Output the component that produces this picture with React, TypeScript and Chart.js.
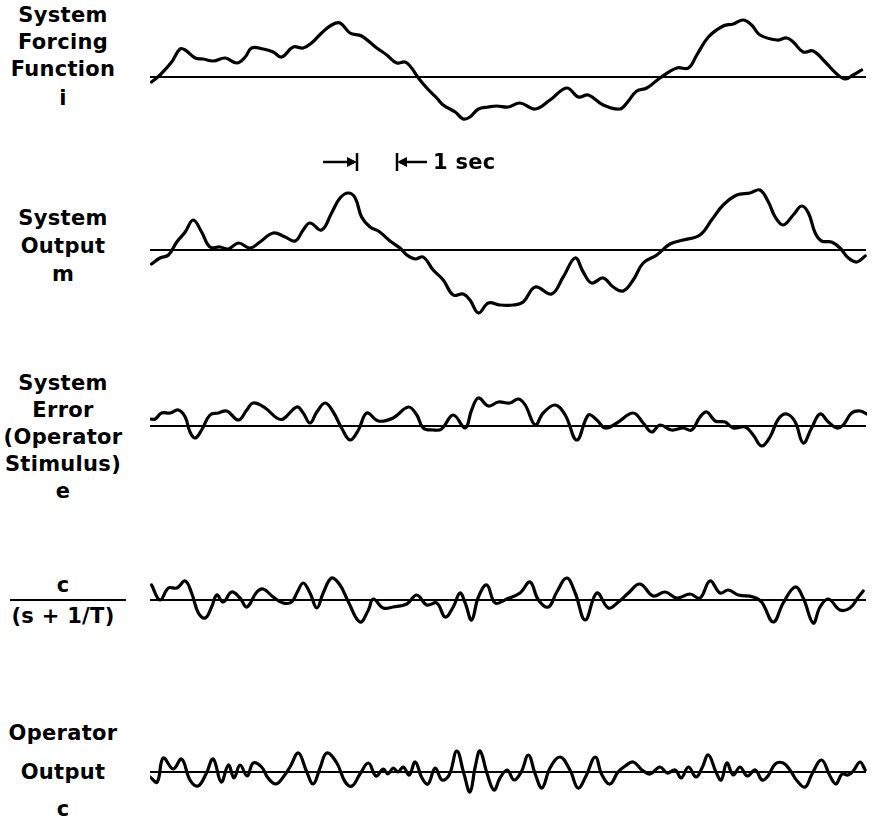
import React, { useEffect, useRef } from "react";
import { Chart, registerables } from "chart.js";

Chart.register(...registerables);

// Time axis in seconds (1 s marker shown on the figure)
const DURATION = 17.925;

// System forcing function i
const forcingT = [0.04, 0.25, 0.54, 0.75, 0.88, 1.13, 1.33, 1.58, 1.88, 2.17, 2.38, 2.54, 2.83, 3.08, 3.29, 3.58, 3.83, 4.04, 4.29, 4.54, 4.75, 5.0, 5.29, 5.67, 5.92, 6.17, 6.38, 6.54, 6.71, 6.92, 7.17, 7.33, 7.63, 7.83, 8.0, 8.21, 8.46, 8.67, 8.96, 9.25, 9.63, 10.0, 10.42, 10.71, 10.96, 11.33, 11.75, 11.92, 12.17, 12.42, 12.75, 13.17, 13.46, 13.67, 13.96, 14.33, 14.58, 14.83, 15.04, 15.25, 15.67, 15.92, 16.08, 16.33, 16.58, 16.88, 17.17, 17.38, 17.58, 17.79];
const forcingV = [-5, 2, 15, 28, 27, 19, 18, 16, 19, 14, 20, 29, 28, 25, 20, 30, 29, 34, 44, 52, 54, 44, 41, 29, 22, 14, 15, 9, -1, -11, -21, -28, -35, -42, -40, -32, -30, -29, -30, -26, -32, -23, -11, -20, -18, -28, -32, -26, -14, -11, -1, 9, 9, 22, 40, 51, 53, 57, 52, 42, 37, 39, 35, 25, 26, 15, 3, -2, 2, 7];

// System output m
const outputT = [0.04, 0.25, 0.46, 0.67, 0.88, 1.08, 1.29, 1.5, 1.75, 1.96, 2.21, 2.5, 2.75, 3.08, 3.38, 3.63, 3.83, 4.0, 4.29, 4.54, 4.75, 4.96, 5.13, 5.29, 5.5, 5.71, 6.0, 6.25, 6.42, 6.63, 6.83, 7.08, 7.33, 7.58, 7.83, 8.0, 8.21, 8.46, 8.75, 9.08, 9.33, 9.63, 10.04, 10.33, 10.63, 10.83, 11.04, 11.33, 11.58, 11.83, 12.08, 12.33, 12.67, 13.0, 13.33, 13.75, 14.04, 14.33, 14.67, 15.0, 15.25, 15.46, 15.63, 15.83, 16.08, 16.29, 16.46, 16.63, 16.79, 17.04, 17.25, 17.46, 17.67, 17.88];
const outputV = [-14, -8, -5, 8, 18, 30, 18, 3, 3, 1, 7, 2, 8, 17, 13, 9, 20, 27, 20, 37, 52, 57, 52, 33, 23, 19, 9, 2, -5, -9, -7, -20, -30, -45, -44, -50, -63, -53, -55, -55, -52, -37, -44, -27, -8, -22, -33, -28, -37, -41, -30, -13, -5, 6, 10, 15, 30, 45, 55, 57, 60, 48, 33, 25, 35, 44, 37, 17, 9, 8, 2, -8, -12, -6];

// System error e (operator stimulus)
const errorT = [0, 0.13, 0.29, 0.5, 0.71, 0.88, 1.0, 1.13, 1.29, 1.5, 1.71, 1.92, 2.21, 2.42, 2.58, 2.88, 3.17, 3.33, 3.67, 3.83, 4.0, 4.17, 4.38, 4.58, 4.79, 5.0, 5.21, 5.42, 5.71, 6.08, 6.46, 6.67, 6.83, 7.08, 7.29, 7.58, 7.88, 8.04, 8.21, 8.46, 8.71, 9.0, 9.21, 9.38, 9.63, 9.83, 10.13, 10.38, 10.67, 10.96, 11.17, 11.38, 11.67, 12.08, 12.33, 12.54, 12.75, 13.04, 13.33, 13.54, 13.75, 13.92, 14.13, 14.38, 14.58, 14.88, 15.08, 15.29, 15.5, 15.71, 15.92, 16.13, 16.33, 16.54, 16.75, 16.96, 17.17, 17.33, 17.54, 17.75, 17.92];
const errorV = [7, 7, 13, 13, 16, 9, -6, -12, -4, 11, 13, 15, 6, 16, 23, 18, 8, 7, 19, 13, 3, 14, 23, 14, -2, -14, -4, 13, 5, 8, 19, 11, -2, -4, -3, 11, -2, 16, 28, 20, 24, 23, 27, 21, 1, 13, 21, 11, -14, 11, 6, -2, 3, 13, 3, -6, 1, -4, -2, -4, 9, 14, 5, 4, -2, -1, -9, -20, -11, 7, 12, 4, -17, -2, 12, 4, -2, 1, 13, 15, 12];

// c / (s + 1/T)
const filteredT = [0.04, 0.25, 0.46, 0.67, 0.88, 1.04, 1.21, 1.38, 1.54, 1.67, 1.83, 2.04, 2.25, 2.42, 2.67, 2.83, 3.08, 3.33, 3.54, 3.67, 3.83, 4.0, 4.17, 4.33, 4.54, 4.75, 4.96, 5.25, 5.46, 5.58, 5.83, 6.08, 6.42, 6.67, 6.92, 7.17, 7.38, 7.58, 7.75, 7.88, 8.04, 8.21, 8.42, 8.63, 8.92, 9.25, 9.5, 9.71, 9.96, 10.17, 10.42, 10.63, 10.88, 11.17, 11.46, 11.71, 11.96, 12.25, 12.58, 12.88, 13.17, 13.5, 13.75, 14.0, 14.25, 14.46, 14.71, 15.08, 15.29, 15.58, 15.83, 16.13, 16.33, 16.58, 16.75, 16.96, 17.25, 17.5, 17.71, 17.83];
const filteredV = [15, 0, 12, 12, 19, 7, -13, -18, -7, 5, -2, 8, 2, -7, 8, 11, 3, -3, -2, 7, 17, 7, -8, 7, 22, 15, -2, -22, -10, 1, -8, -7, -4, 5, -5, -3, -17, -7, 7, -3, -20, 3, 15, -3, 1, 7, 18, 0, -7, 8, 22, 7, -20, 7, -8, -2, 7, 16, 4, 8, 2, 6, 2, 19, 7, 10, 5, 3, -2, -22, -3, 13, 2, -23, -7, 1, -10, -8, 3, 9];

// Operator output c
const operatorT = [0, 0.18, 0.33, 0.58, 0.79, 1.0, 1.2, 1.4, 1.58, 1.78, 1.96, 2.1, 2.25, 2.43, 2.58, 2.79, 2.95, 3.15, 3.35, 3.5, 3.71, 3.9, 4.08, 4.25, 4.42, 4.67, 4.88, 5.05, 5.25, 5.46, 5.65, 5.83, 5.95, 6.08, 6.2, 6.33, 6.48, 6.63, 6.8, 6.95, 7.13, 7.3, 7.48, 7.67, 7.85, 8.0, 8.13, 8.25, 8.43, 8.6, 8.75, 8.93, 9.1, 9.28, 9.46, 9.63, 9.8, 10.0, 10.25, 10.5, 10.7, 10.9, 11.13, 11.3, 11.5, 11.7, 11.88, 12.08, 12.3, 12.5, 12.75, 12.93, 13.13, 13.28, 13.46, 13.65, 13.8, 13.96, 14.15, 14.28, 14.42, 14.58, 14.75, 14.93, 15.13, 15.3, 15.45, 15.63, 15.83, 16.0, 16.18, 16.38, 16.55, 16.79, 17.0, 17.15, 17.3, 17.45, 17.58, 17.75, 17.88];
const operatorV = [-5, -10, 14, 3, 13, -8, -14, -2, 13, -10, 7, -6, 7, -4, 9, 5, -6, -12, -4, 5, 19, 2, -12, 4, 19, 9, -10, -14, -2, 9, -4, 3, -2, 4, 0, 5, -3, 10, -6, -12, 4, -8, -3, 21, -2, -20, 5, 21, -2, -18, -6, 2, -8, 0, 17, -2, -16, 4, 15, 2, -16, -4, 15, -3, -12, 0, 6, 10, 2, -2, 5, -1, 2, -6, 5, -5, 4, 17, 0, -8, 9, -3, 5, -4, 2, -8, -4, 8, 9, 2, -9, -15, -2, 12, -4, -12, -2, -3, 1, 10, 2];

const baselineT = [0, 17.9];
const baselineV = [0, 0];

const LEFT = 150;
const WIDTH = 717;
const HALF = 75;

type TraceProps = { t: number[]; v: number[]; baseline: number };

function Trace({ t, v, baseline }: TraceProps) {
  const ref = useRef<HTMLCanvasElement>(null);
  useEffect(() => {
    const chart = new Chart(ref.current as HTMLCanvasElement, {
      type: "line",
      data: {
        datasets: [
          {
            data: baselineT.map((x, i) => ({ x, y: baselineV[i] })),
            borderColor: "#000",
            borderWidth: 2,
            pointRadius: 0,
            tension: 0,
          },
          {
            data: t.map((x, i) => ({ x, y: v[i] })),
            borderColor: "#000",
            borderWidth: 3.2,
            pointRadius: 0,
            tension: 0.4,
            borderJoinStyle: "round",
            borderCapStyle: "round",
          },
        ],
      },
      options: {
        animation: false,
        responsive: false,
        maintainAspectRatio: false,
        events: [],
        layout: { padding: 0 },
        plugins: { legend: { display: false }, tooltip: { enabled: false } },
        scales: {
          x: { type: "linear", min: 0, max: DURATION, display: false },
          y: { type: "linear", min: -HALF, max: HALF, display: false },
        },
      },
    });
    return () => chart.destroy();
  }, [t, v]);
  return (
    <canvas
      ref={ref}
      width={WIDTH}
      height={HALF * 2}
      style={{ position: "absolute", left: LEFT, top: baseline - HALF, width: WIDTH, height: HALF * 2 }}
    />
  );
}

const labelFont: React.CSSProperties = {
  position: "absolute",
  left: 0,
  width: 126,
  textAlign: "center",
  fontFamily: "'DejaVu Sans', sans-serif",
  fontWeight: "bold",
  fontSize: 21,
  lineHeight: "24px",
  letterSpacing: 0.3,
  color: "#000",
  whiteSpace: "nowrap",
};

function Label({ text, y }: { text: string; y: number }) {
  return <div style={{ ...labelFont, top: y - 12 }}>{text}</div>;
}

export default function App() {
  const secLeft = LEFT + 5.175 * (WIDTH / DURATION);
  const secRight = LEFT + 6.175 * (WIDTH / DURATION);
  const my = 162;
  return (
    <div style={{ position: "absolute", left: 0, top: 0, width: 875, height: 825, background: "#fff", overflow: "hidden" }}>
      <Label text="System" y={15} />
      <Label text="Forcing" y={42} />
      <Label text="Function" y={69} />
      <Label text="i" y={98} />

      <Label text="System" y={218} />
      <Label text="Output" y={246} />
      <Label text="m" y={274} />

      <Label text="System" y={383} />
      <Label text="Error" y={410} />
      <Label text="(Operator" y={437} />
      <Label text="Stimulus)" y={464} />
      <Label text="e" y={491} />

      <Label text="c" y={585} />
      <div style={{ position: "absolute", left: 10, width: 116, top: 599, height: 0, borderTop: "2px solid #000" }} />
      <Label text="(s + 1/T)" y={616} />

      <Label text="Operator" y={733} />
      <Label text="Output" y={772} />
      <Label text="c" y={809} />

      <Trace t={forcingT} v={forcingV} baseline={77} />
      <Trace t={outputT} v={outputV} baseline={250} />
      <Trace t={errorT} v={errorV} baseline={426} />
      <Trace t={filteredT} v={filteredV} baseline={600} />
      <Trace t={operatorT} v={operatorV} baseline={772} />

      <svg width={875} height={825} style={{ position: "absolute", left: 0, top: 0, pointerEvents: "none" }}>
        <line x1={secLeft - 34} y1={my} x2={secLeft - 6} y2={my} stroke="#000" strokeWidth={2.5} />
        <polygon points={`${secLeft},${my} ${secLeft - 10},${my - 5} ${secLeft - 10},${my + 5}`} fill="#000" />
        <line x1={secLeft} y1={my - 9} x2={secLeft} y2={my + 9} stroke="#000" strokeWidth={2.5} />
        <line x1={secRight} y1={my - 9} x2={secRight} y2={my + 9} stroke="#000" strokeWidth={2.5} />
        <polygon points={`${secRight},${my} ${secRight + 10},${my - 5} ${secRight + 10},${my + 5}`} fill="#000" />
        <line x1={secRight + 6} y1={my} x2={secRight + 30} y2={my} stroke="#000" strokeWidth={2.5} />
      </svg>
      <div style={{ ...labelFont, left: secRight + 36, width: "auto", textAlign: "left", top: my - 12 }}>1 sec</div>
    </div>
  );
}
